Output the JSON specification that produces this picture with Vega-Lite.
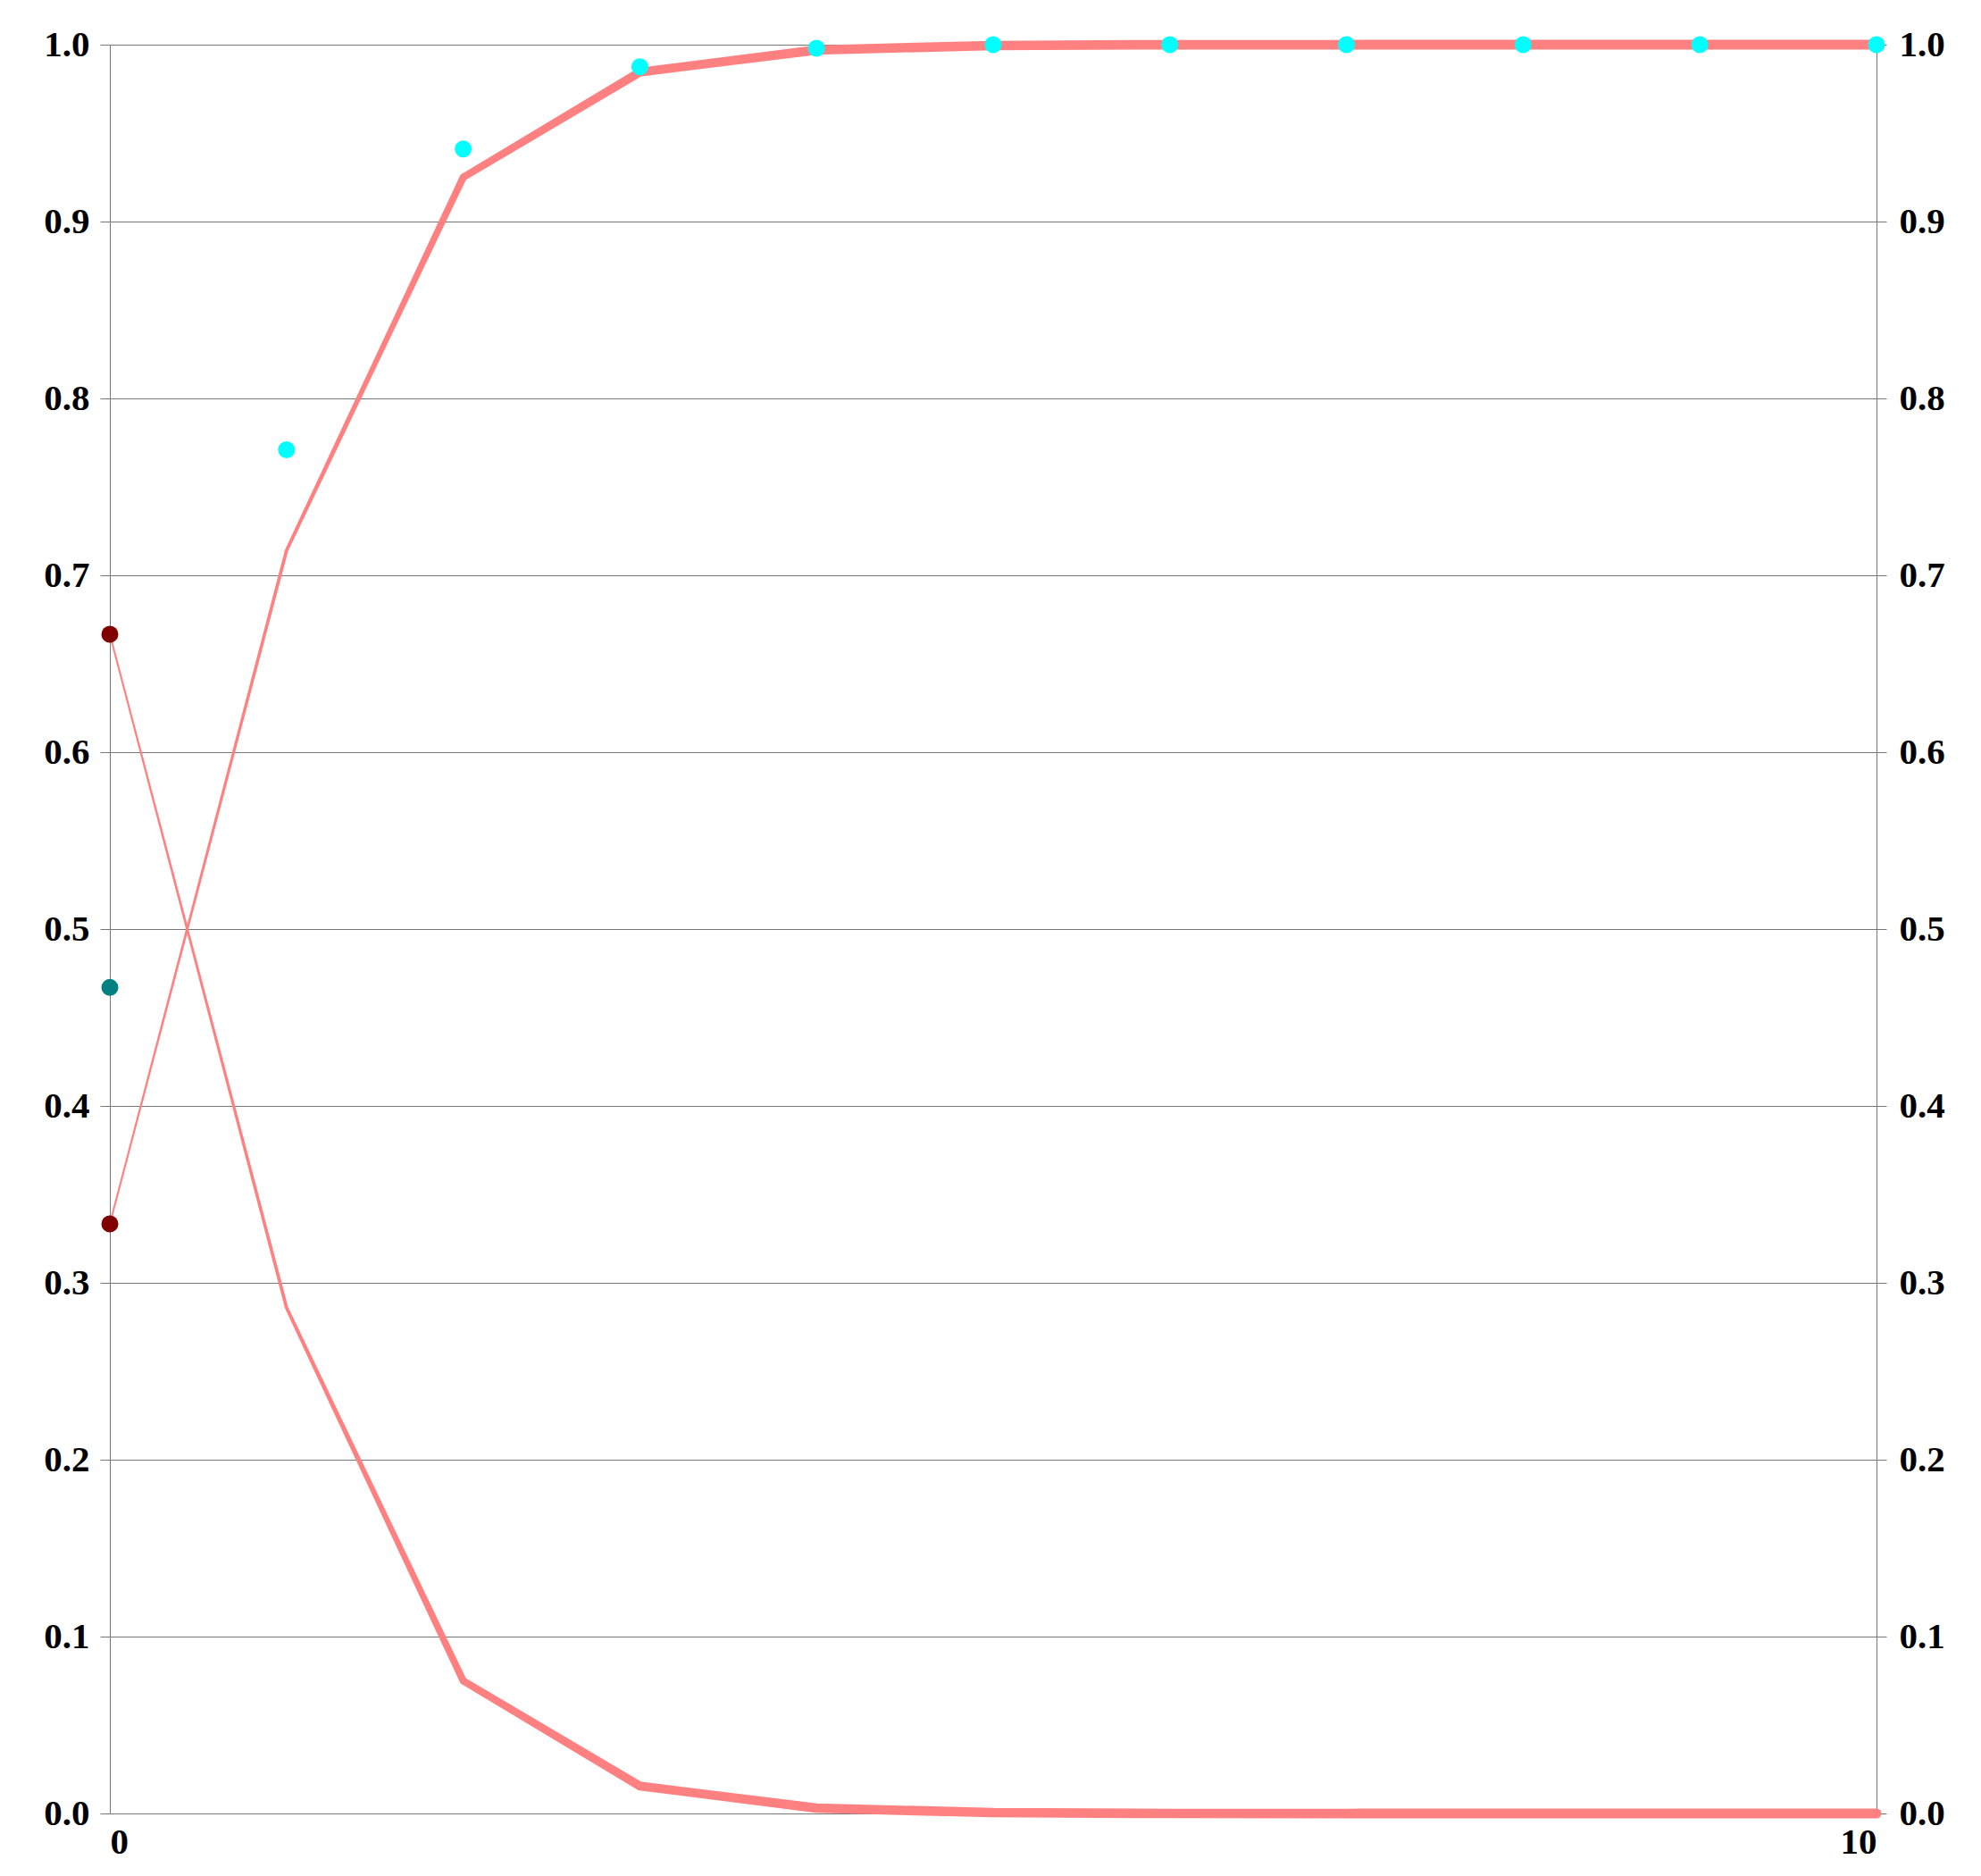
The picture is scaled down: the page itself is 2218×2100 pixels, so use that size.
{
  "$schema": "https://vega.github.io/schema/vega-lite/v6.json",
  "width": 1978,
  "height": 1980,
  "autosize": {"type": "none"},
  "padding": {"left": 123, "top": 50, "right": 117, "bottom": 70},
  "background": "white",
  "config": {
    "view": {"stroke": null},
    "axis": {
      "title": null,
      "labelFont": "Liberation Serif",
      "labelFontSize": 41,
      "labelFontWeight": "bold",
      "labelColor": "#000000",
      "domainColor": "#777777",
      "tickColor": "#777777",
      "gridColor": "#777777",
      "gridWidth": 1,
      "tickSize": 11
    }
  },
  "datasets": {
    "lines": [
      {"x": 0, "p": 0.3333, "s": "rise"},
      {"x": 1, "p": 0.714, "s": "rise"},
      {"x": 2, "p": 0.925, "s": "rise"},
      {"x": 3, "p": 0.9845, "s": "rise"},
      {"x": 4, "p": 0.997, "s": "rise"},
      {"x": 5, "p": 0.9995, "s": "rise"},
      {"x": 6, "p": 1.0, "s": "rise"},
      {"x": 7, "p": 1.0, "s": "rise"},
      {"x": 8, "p": 1.0, "s": "rise"},
      {"x": 9, "p": 1.0, "s": "rise"},
      {"x": 10, "p": 1.0, "s": "rise"},
      {"x": 0, "p": 0.6667, "s": "fall"},
      {"x": 1, "p": 0.286, "s": "fall"},
      {"x": 2, "p": 0.075, "s": "fall"},
      {"x": 3, "p": 0.0155, "s": "fall"},
      {"x": 4, "p": 0.003, "s": "fall"},
      {"x": 5, "p": 0.0005, "s": "fall"},
      {"x": 6, "p": 0.0, "s": "fall"},
      {"x": 7, "p": 0.0, "s": "fall"},
      {"x": 8, "p": 0.0, "s": "fall"},
      {"x": 9, "p": 0.0, "s": "fall"},
      {"x": 10, "p": 0.0, "s": "fall"}
    ],
    "points": [
      {"x": 0, "y": 0.6667, "k": "darkred"},
      {"x": 0, "y": 0.3333, "k": "darkred"},
      {"x": 0, "y": 0.467, "k": "teal"},
      {"x": 1, "y": 0.771, "k": "cyan"},
      {"x": 2, "y": 0.941, "k": "cyan"},
      {"x": 3, "y": 0.9875, "k": "cyan"},
      {"x": 4, "y": 0.998, "k": "cyan"},
      {"x": 5, "y": 1.0, "k": "cyan"},
      {"x": 6, "y": 1.0, "k": "cyan"},
      {"x": 7, "y": 1.0, "k": "cyan"},
      {"x": 8, "y": 1.0, "k": "cyan"},
      {"x": 9, "y": 1.0, "k": "cyan"},
      {"x": 10, "y": 1.0, "k": "cyan"}
    ]
  },
  "layer": [
    {
      "data": {"name": "lines"},
      "mark": {"type": "trail", "color": "#FF8080", "clip": false},
      "encoding": {
        "x": {
          "field": "x", "type": "quantitative",
          "scale": {"domain": [0, 10], "nice": false},
          "axis": {"values": [0, 10], "labelFlush": true, "ticks": false, "grid": false, "domain": false, "labelPadding": 12, "format": "d"}
        },
        "y": {
          "field": "p", "type": "quantitative",
          "scale": {"domain": [0, 1], "nice": false},
          "axis": {"orient": "left", "values": [0, 0.1, 0.2, 0.3, 0.4, 0.5, 0.6, 0.7, 0.8, 0.9, 1.0], "format": ".1f", "grid": true, "labelPadding": 12}
        },
        "detail": {"field": "s", "type": "nominal"},
        "order": {"field": "x", "type": "quantitative"},
        "size": {
          "field": "x", "type": "quantitative",
          "scale": {"domain": [0, 1, 2, 3, 4, 10], "range": [2, 3.8, 8, 10, 10.5, 11]},
          "legend": null
        }
      }
    },
    {
      "data": {"name": "points"},
      "mark": {"type": "circle", "size": 360, "opacity": 1},
      "encoding": {
        "x": {"field": "x", "type": "quantitative", "scale": {"domain": [0, 10], "nice": false}},
        "y": {
          "field": "y", "type": "quantitative",
          "scale": {"domain": [0, 1], "nice": false},
          "axis": {"orient": "right", "values": [0, 0.1, 0.2, 0.3, 0.4, 0.5, 0.6, 0.7, 0.8, 0.9, 1.0], "format": ".1f", "grid": false, "labelPadding": 14}
        },
        "color": {
          "field": "k", "type": "nominal",
          "scale": {"domain": ["cyan", "teal", "darkred"], "range": ["#00FFFF", "#008080", "#800000"]},
          "legend": null
        }
      }
    }
  ],
  "resolve": {"axis": {"y": "independent"}}
}
